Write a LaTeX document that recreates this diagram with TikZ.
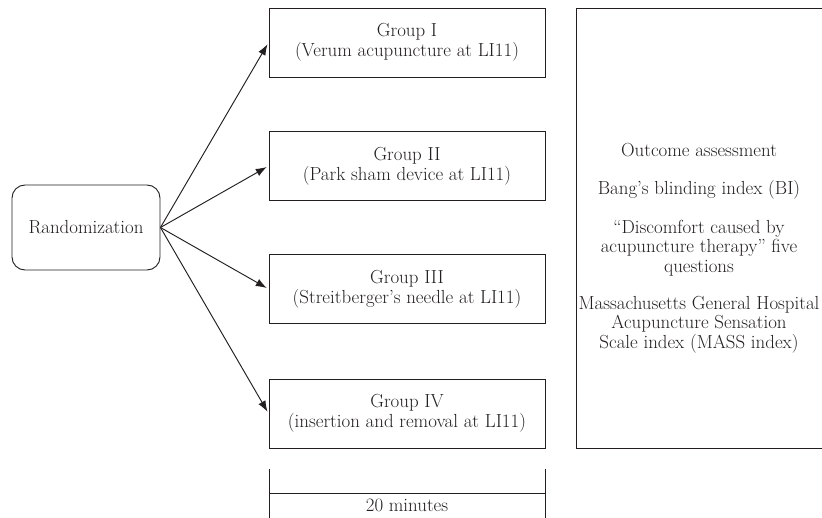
\documentclass[tikz,border=0pt]{standalone}
\usepackage{tikz}
\usetikzlibrary{
    arrows.meta,
    positioning,
    calc,
}
\definecolor{FlowInk}{RGB}{35,31,32}

\begin{document}
\begin{tikzpicture}[x=1pt, y=-1pt,
        every node/.style={font=\fontsize{18.9}{19.6}\selectfont, text=FlowInk},
        grpbox/.style={draw=FlowInk, line width=0.95pt, minimum width=276pt, minimum height=69pt, align=center, inner sep=0pt},
        arr/.style={-{Latex[length=11pt, width=8pt]}, line width=0.95pt, FlowInk, shorten >=2pt}]
        \useasboundingbox (0,0) rectangle (822,517);
        \node[draw=FlowInk, line width=0.95pt, rounded corners=13pt, minimum width=148pt, minimum height=85pt, inner sep=0pt] (rand) at (86,227.5) {Randomization};
        \node[grpbox] (g1) at (407,42.5) {Group I\\(Verum acupuncture at LI11)};
        \node[grpbox] (g2) at (407,166) {Group II\\(Park sham device at LI11)};
        \node[grpbox] (g3) at (407,289) {Group III\\(Streitberger’s needle at LI11)};
        \node[grpbox] (g4) at (407,413.5) {Group IV\\(insertion and removal at LI11)};
        \draw[arr] (rand.east) -- (g1.west);
        \draw[arr] (rand.east) -- (g2.west);
        \draw[arr] (rand.east) -- (g3.west);
        \draw[arr] (rand.east) -- (g4.west);
        % outcome box, its right side runs off the page
        \node[draw=FlowInk, line width=0.95pt, minimum width=247.5pt, minimum height=440pt, inner sep=0pt] (outc) at (699.75,228) {};
        \node[align=center, inner sep=0pt] (assess) at (699,248) {Outcome assessment\\[19pt]
            Bang’s blinding index (BI)\\[19pt]
            “Discomfort caused by\\acupuncture therapy” five\\questions\\[17pt]
            Massachusetts General Hospital\\Acupuncture Sensation\\Scale index (MASS index)};
        % time bar
        \node (dur) at (407,505) {20 minutes};
        \coordinate (tl) at (269,469);
        \coordinate (tr) at (545,469);
        \draw[line width=0.95pt, FlowInk] (tl) -- ++(0,50) (tr) -- ++(0,50);
        \draw[line width=0.95pt, FlowInk] ($(tl)+(0,24)$) -- ($(tr)+(0,24)$);
\end{tikzpicture}
\end{document}
